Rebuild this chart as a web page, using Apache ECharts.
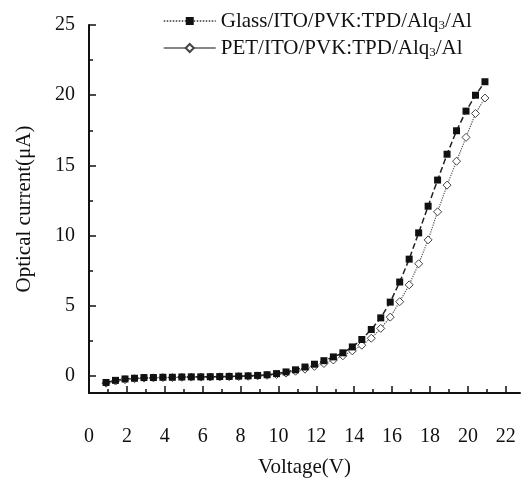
<!DOCTYPE html>
<html>
<head>
<meta charset="utf-8">
<script src="https://cdn.jsdelivr.net/npm/echarts@6/dist/echarts.min.js"></script>
<style>
  html, body { margin: 0; padding: 0; background: #fff; }
  #main { width: 522px; height: 484px; }
</style>
</head>
<body>
<div id="main"></div>
<script>
// voltage (V) of each measured point
var voltage = [0.9, 1.4, 1.9, 2.4, 2.9, 3.4, 3.9, 4.4, 4.9, 5.4, 5.9, 6.4, 6.9, 7.4, 7.9, 8.4, 8.9, 9.4, 9.9, 10.4,
	10.9, 11.4, 11.9, 12.4, 12.9, 13.4, 13.9, 14.4, 14.9, 15.4, 15.9, 16.4, 16.9, 17.4, 17.9, 18.4, 18.9, 19.4, 19.9, 20.4, 20.9];
// optical current (uA)
var glassCurrent = [-0.45, -0.3, -0.2, -0.15, -0.1, -0.1, -0.08, -0.08, -0.06, -0.05, -0.05, -0.04, -0.03, -0.02, 0, 0.02, 0.05, 0.1, 0.18, 0.3,
	0.45, 0.65, 0.85, 1.1, 1.37, 1.66, 2.08, 2.61, 3.32, 4.15, 5.27, 6.7, 8.33, 10.2, 12.1, 13.96, 15.8, 17.47, 18.87, 20.0, 20.96];
var petCurrent = [-0.5, -0.35, -0.25, -0.18, -0.14, -0.12, -0.1, -0.1, -0.08, -0.07, -0.07, -0.06, -0.05, -0.04, -0.03, -0.01, 0.02, 0.06, 0.12, 0.22,
	0.35, 0.5, 0.7, 0.9, 1.15, 1.45, 1.8, 2.2, 2.7, 3.4, 4.2, 5.3, 6.5, 8.0, 9.7, 11.7, 13.6, 15.3, 17.0, 18.7, 19.8];
var seriesNames = ['Glass/ITO/PVK:TPD/Alq3/Al', 'PET/ITO/PVK:TPD/Alq3/Al'];
var xMajorTicks = [0, 2, 4, 6, 8, 10, 12, 14, 16, 18, 20, 22];
var xMinorTicks = [1, 3, 5, 7, 9, 11, 13, 15, 17, 19, 21];
var yMajorTicks = [0, 5, 10, 15, 20, 25];
var yMinorTicks = [2.5, 7.5, 12.5, 17.5, 22.5];

var font = 'Liberation Serif';
var pairs = function (xs, ys) {
	return xs.map(function (x, i) { return [x, ys[i]]; });
};

var chart = echarts.init(document.getElementById('main'));
var axisLine = { onZero: false, lineStyle: { color: '#111', width: 2 } };
var option = {
	backgroundColor: '#fff',
	animation: false,
	grid: { left: 89, right: 2, top: 25, bottom: 91 },
	legend: {
		orient: 'vertical',
		left: 158,
		top: 5,
		itemWidth: 52,
		itemHeight: 10,
		itemGap: 5,
		textStyle: {
			fontFamily: font, fontSize: 21, color: '#111', lineHeight: 22,
			rich: { sub: { fontFamily: font, fontSize: 13, color: '#111', verticalAlign: 'bottom', padding: [10, 0, 0, 0] } }
		},
		formatter: function (name) { return name.replace('Alq3', 'Alq{sub|3}'); },
		data: [
			{ name: seriesNames[0], lineStyle: { type: 'dotted', color: '#333', width: 1.5 } },
			{ name: seriesNames[1], lineStyle: { type: 'solid', color: '#111', width: 1.2 } }
		]
	},
	xAxis: [{
		type: 'value', min: 0, max: 22.75,
		name: 'Voltage(V)', nameLocation: 'middle', nameGap: 64,
		nameTextStyle: { fontFamily: font, fontSize: 21, color: '#111' },
		axisLine: axisLine,
		axisTick: { inside: true, length: 7, lineStyle: { color: '#111', width: 1.5 }, customValues: xMajorTicks },
		axisLabel: { margin: 34, fontFamily: font, fontSize: 20, color: '#111', customValues: xMajorTicks },
		splitLine: { show: false }
	}, {
		type: 'value', min: 0, max: 22.75, position: 'bottom',
		axisLine: { show: false, onZero: false },
		axisTick: { inside: true, length: 4, lineStyle: { color: '#111', width: 1.5 }, customValues: xMinorTicks },
		axisLabel: { show: false },
		splitLine: { show: false }
	}],
	yAxis: [{
		type: 'value', min: -1.2, max: 25,
		name: 'Optical current(\u03bcA)', nameLocation: 'middle', nameGap: 54,
		nameTextStyle: { fontFamily: font, fontSize: 21, color: '#111' },
		axisLine: axisLine,
		axisTick: { inside: true, length: 7, lineStyle: { color: '#111', width: 1.5 }, customValues: yMajorTicks },
		axisLabel: { margin: 14, fontFamily: font, fontSize: 20, color: '#111', customValues: yMajorTicks },
		splitLine: { show: false }
	}, {
		type: 'value', min: -1.2, max: 25, position: 'left',
		axisLine: { show: false, onZero: false },
		axisTick: { inside: true, length: 4, lineStyle: { color: '#111', width: 1.5 }, customValues: yMinorTicks },
		axisLabel: { show: false },
		splitLine: { show: false }
	}],
	series: [{
		name: seriesNames[0],
		type: 'line',
		data: pairs(voltage, glassCurrent),
		symbol: 'rect',
		symbolSize: 7,
		itemStyle: { color: '#111' },
		lineStyle: { type: 'dashed', color: '#222', width: 1.5 },
		z: 3
	}, {
		name: seriesNames[1],
		type: 'line',
		data: pairs(voltage, petCurrent),
		symbol: 'diamond',
		symbolSize: 8,
		itemStyle: { color: '#fff', borderColor: '#444', borderWidth: 1 },
		lineStyle: { type: 'dotted', color: '#555', width: 1.2 },
		z: 2
	}]
};
chart.setOption(option);
</script>
</body>
</html>
